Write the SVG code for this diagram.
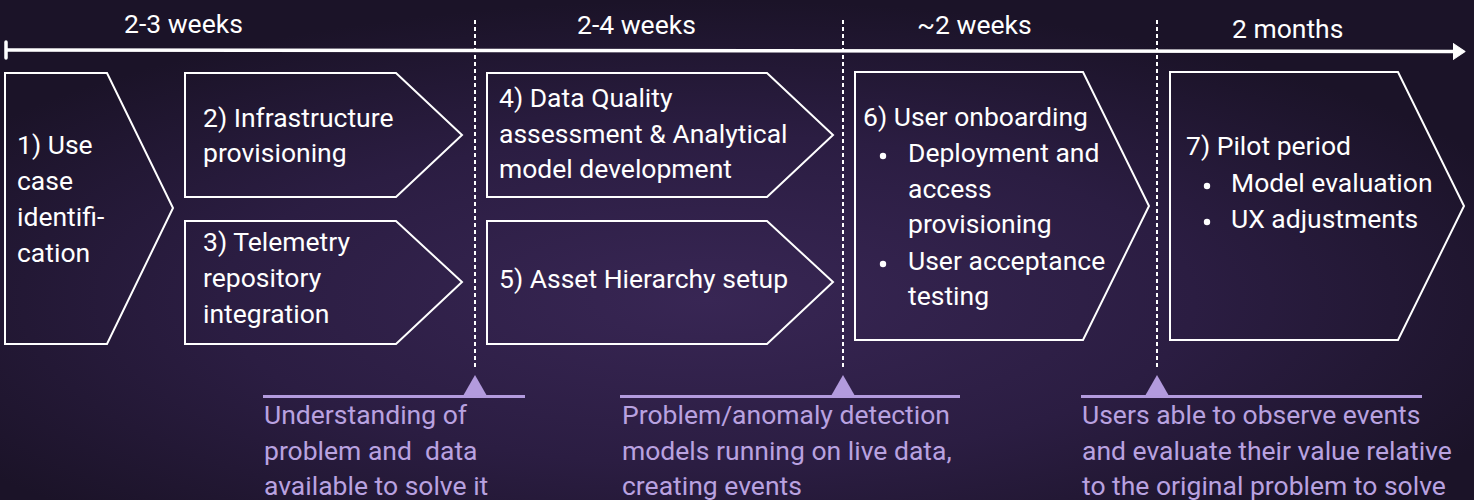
<svg xmlns="http://www.w3.org/2000/svg" width="1474" height="500" viewBox="0 0 1474 500">
<defs>
<radialGradient id="bg" cx="0.48" cy="0.6" r="0.6">
<stop offset="0" stop-color="#382654"/>
<stop offset="0.55" stop-color="#2b1d42"/>
<stop offset="1" stop-color="#1b1328"/>
</radialGradient>
<marker id="arr" markerWidth="13" markerHeight="18" refX="1" refY="8" orient="auto" markerUnits="userSpaceOnUse">
<path d="M0,0 L12,8 L0,16 Z" fill="#ffffff" stroke="#ffffff" stroke-width="1" stroke-linejoin="round"/>
</marker>
<style>
.box{fill:none;stroke:#ffffff;stroke-width:2;}
.t{font-family:Roboto,"Liberation Sans",sans-serif;font-size:26.5px;fill:#ffffff;}
.a{font-family:Roboto,"Liberation Sans",sans-serif;font-size:26.5px;fill:#b9a2e0;}
.dash{stroke:#ffffff;stroke-width:2;stroke-dasharray:4 3;fill:none;}
.ml{stroke:#b39bde;stroke-width:3;fill:none;}
.tri{fill:#b39bde;}
.bul{fill:#ffffff;}
</style>
</defs>
<rect x="0" y="0" width="1474" height="500" fill="url(#bg)"/>

<g id="timeline">
<line x1="6" y1="50" x2="1454" y2="51.5" stroke="#ffffff" stroke-width="3.5" marker-end="url(#arr)"/>
<line x1="6" y1="42" x2="6" y2="58" stroke="#ffffff" stroke-width="3.5" stroke-linecap="round"/>
<text class="t" x="124" y="33">2-3 weeks</text>
<text class="t" x="577" y="34">2-4 weeks</text>
<text class="t" x="917" y="34">~2 weeks</text>
<text class="t" x="1232" y="38">2 months</text>
</g>

<g id="connectors">
<line class="dash" x1="475" y1="20" x2="475" y2="368"/>
<line class="dash" x1="843" y1="20" x2="843" y2="368"/>
<line class="dash" x1="1157" y1="20" x2="1157" y2="368"/>
</g>

<g id="node1">
<polygon class="box" points="5,73 107,73 173,208 107,344 5,344"/>
<text class="t" x="17" y="154">1) Use</text>
<text class="t" x="17" y="190">case</text>
<text class="t" x="17" y="226">identifi-</text>
<text class="t" x="17" y="262">cation</text>
</g>

<g id="node2">
<polygon class="box" points="185,73 396,73 462,135 396,197 185,197"/>
<text class="t" x="203" y="127">2) Infrastructure</text>
<text class="t" x="203" y="162">provisioning</text>
</g>

<g id="node3">
<polygon class="box" points="185,221 396,221 462,282 396,344 185,344"/>
<text class="t" x="203" y="251">3) Telemetry</text>
<text class="t" x="203" y="287">repository</text>
<text class="t" x="203" y="323">integration</text>
</g>

<g id="node4">
<polygon class="box" points="487,73 767,73 833,135 767,197 487,197"/>
<text class="t" x="499" y="107">4) Data Quality</text>
<text class="t" x="499" y="143">assessment &amp; Analytical</text>
<text class="t" x="499" y="178">model development</text>
</g>

<g id="node5">
<polygon class="box" points="487,221 767,221 833,282 767,344 487,344"/>
<text class="t" x="499" y="288">5) Asset Hierarchy setup</text>
</g>

<g id="node6">
<polygon class="box" points="855,72 1083,72 1149,206 1083,340 855,340"/>
<text class="t" x="863" y="126">6) User onboarding</text>
<circle class="bul" cx="883" cy="156" r="3.2"/>
<text class="t" x="908" y="162">Deployment and</text>
<text class="t" x="908" y="198">access</text>
<text class="t" x="908" y="233">provisioning</text>
<circle class="bul" cx="883" cy="264" r="3.2"/>
<text class="t" x="908" y="270">User acceptance</text>
<text class="t" x="908" y="305">testing</text>
</g>

<g id="node7">
<polygon class="box" points="1170,72 1398,72 1464,206 1398,340 1170,340"/>
<text class="t" x="1186" y="155">7) Pilot period</text>
<circle class="bul" cx="1207" cy="186" r="3.2"/>
<text class="t" x="1231" y="192">Model evaluation</text>
<circle class="bul" cx="1207" cy="222" r="3.2"/>
<text class="t" x="1231" y="228">UX adjustments</text>
</g>

<g id="milestone1">
<line class="ml" x1="263" y1="396.5" x2="525" y2="396.5"/>
<polygon class="tri" points="475,375 463,396 487,396"/>
<text class="a" x="264" y="424">Understanding of</text>
<text class="a" x="264" y="460">problem and&#160; data</text>
<text class="a" x="264" y="495">available to solve it</text>
</g>

<g id="milestone2">
<line class="ml" x1="620" y1="396.5" x2="960" y2="396.5"/>
<polygon class="tri" points="843,375 831,396 855,396"/>
<text class="a" x="622" y="424">Problem/anomaly detection</text>
<text class="a" x="622" y="460">models running on live data,</text>
<text class="a" x="622" y="495">creating events</text>
</g>

<g id="milestone3">
<line class="ml" x1="1081" y1="396.5" x2="1422" y2="396.5"/>
<polygon class="tri" points="1157,375 1145,396 1169,396"/>
<text class="a" x="1082" y="424">Users able to observe events</text>
<text class="a" x="1082" y="460">and evaluate their value relative</text>
<text class="a" x="1082" y="495">to the original problem to solve</text>
</g>
</svg>
